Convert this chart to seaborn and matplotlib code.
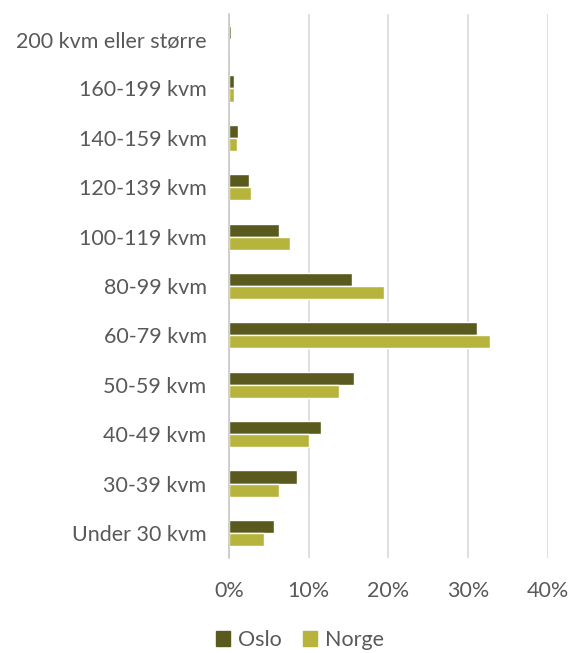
import seaborn as sns
import matplotlib.pyplot as plt
import pandas as pd
from matplotlib.patches import Patch

# data (share of dwellings, %)
categories = ["200 kvm eller større", "160-199 kvm", "140-159 kvm", "120-139 kvm",
              "100-119 kvm", "80-99 kvm", "60-79 kvm", "50-59 kvm", "40-49 kvm",
              "30-39 kvm", "Under 30 kvm"]
oslo = [0.3, 0.7, 1.2, 2.5, 6.3, 15.4, 31.1, 15.7, 11.6, 8.5, 5.7]
norge = [0.2, 0.6, 1.0, 2.8, 7.7, 19.5, 32.7, 13.8, 10.0, 6.3, 4.4]
series = ["Oslo", "Norge"]
colors = ["#5a5a1e", "#b6b43c"]
xticks = [0, 10, 20, 30, 40]

df = pd.DataFrame({
    "kategori": categories * 2,
    "andel": oslo + norge,
    "serie": ["Oslo"] * len(categories) + ["Norge"] * len(categories),
})

sns.set_theme(style="white")
plt.rcParams["font.family"] = ["Lato", "DejaVu Sans"]

fig = plt.figure(figsize=(5.72, 6.53), dpi=100)
ax = fig.add_axes([0.400, 0.146, 0.558, 0.832])

sns.barplot(data=df, y="kategori", x="andel", hue="serie", order=categories,
            hue_order=series, palette=colors, width=0.53, ax=ax,
            orient="h", legend=False, saturation=1)

ax.set_xlim(0, 40)
ax.set_xticks(xticks)
ax.set_xticklabels([f"{t}%" for t in xticks])
ax.set_xlabel("")
ax.set_ylabel("")
ax.grid(axis="x", color="#d9d9d9", linewidth=1.2)
ax.set_axisbelow(True)
for s in ["top", "right", "bottom"]:
    ax.spines[s].set_visible(False)
ax.spines["left"].set_color("#c8c8c8")
ax.spines["left"].set_linewidth(1.2)
ax.tick_params(axis="x", length=0, pad=17, labelsize=15.5, labelcolor="#595959")
ax.tick_params(axis="y", length=0, pad=16, labelsize=15.5, labelcolor="#595959")

handles = [Patch(color=c, label=s) for s, c in zip(series, colors)]
fig.legend(handles=handles, loc="center", bbox_to_anchor=(300 / 572, 1 - 640 / 653),
           ncol=2, frameon=False, fontsize=15.5, labelcolor="#595959",
           handlelength=0.65, handleheight=0.65, handletextpad=0.35, columnspacing=1.0)

fig.savefig("out.png", dpi=100)
